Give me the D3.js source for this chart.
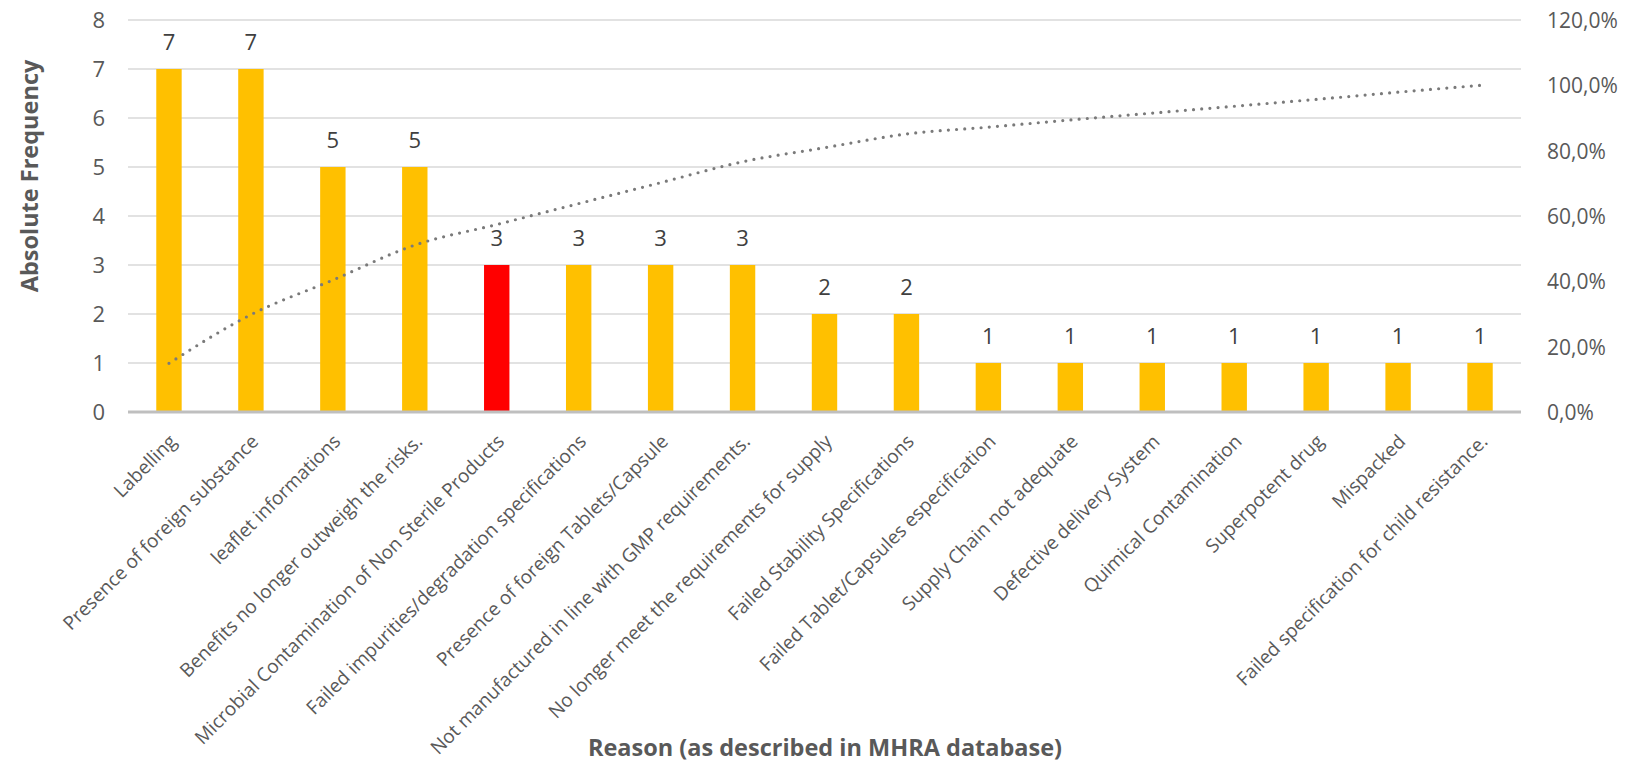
<!DOCTYPE html>
<html>
<head>
<meta charset="utf-8">
<script src="https://cdn.jsdelivr.net/npm/d3@7"></script>
<style>
  html, body { margin: 0; padding: 0; background: #ffffff; }
  svg { display: block; font-family: "Open Sans", "DejaVu Sans", sans-serif; }
  svg text { font-family: "Open Sans", "DejaVu Sans", sans-serif; }
</style>
</head>
<body>
<svg id="chart" width="1643" height="764"></svg>
<script>
// Recall reasons, ordered by frequency (Pareto)
const categories = [
  "Labelling",
  "Presence of foreign substance",
  "leaflet informations",
  "Benefits no longer outweigh the risks.",
  "Microbial Contamination of Non Sterile Products",
  "Failed impurities/degradation specifications",
  "Presence of foreign Tablets/Capsule",
  "Not manufactured in line with GMP requirements.",
  "No longer meet the requirements for supply",
  "Failed Stability Specifications",
  "Failed Tablet/Capsules especification",
  "Supply Chain not adequate",
  "Defective delivery System",
  "Quimical Contamination",
  "Superpotent drug",
  "Mispacked",
  "Failed specification for child resistance."
];

// Absolute frequency of each reason
const frequencies = [7, 7, 5, 5, 3, 3, 3, 3, 2, 2, 1, 1, 1, 1, 1, 1, 1];

// Cumulative percentage (right axis)
const cumulativePercent = [14.9, 29.8, 40.4, 51.1, 57.4, 63.8, 70.2, 76.6, 80.9, 85.1,
                           87.2, 89.4, 91.5, 93.6, 95.7, 97.9, 100.0];

const leftTicks = [0, 1, 2, 3, 4, 5, 6, 7, 8];
const rightTicks = [0, 20, 40, 60, 80, 100, 120];

const highlighted = "Microbial Contamination of Non Sterile Products";

const svg = d3.select("#chart");
const plot = { left: 128, right: 1521, top: 20, bottom: 412 };
const fontStack = "'Open Sans', 'DejaVu Sans', sans-serif";

const x = d3.scaleBand()
  .domain(categories)
  .range([plot.left, plot.right])
  .paddingInner(0.69)
  .paddingOuter(0.345);

const y = d3.scaleLinear().domain([0, 8]).range([plot.bottom, plot.top]);
const yPct = d3.scaleLinear().domain([0, 120]).range([plot.bottom, plot.top]);

const textGrey = "#595959";

// Horizontal gridlines
svg.append("g")
  .selectAll("line")
  .data(leftTicks.filter(d => d > 0))
  .join("line")
  .attr("x1", plot.left)
  .attr("x2", plot.right)
  .attr("y1", d => y(d))
  .attr("y2", d => y(d))
  .attr("stroke", "#d9d9d9")
  .attr("stroke-width", 1.5);

// Left axis (absolute frequency)
const leftAxis = svg.append("g")
  .attr("transform", `translate(${plot.left},0)`)
  .call(d3.axisLeft(y).tickValues(leftTicks).tickSize(0).tickPadding(23).tickFormat(d3.format("d")))
  .attr("font-family", fontStack);
leftAxis.select(".domain").remove();
leftAxis.selectAll("text")
  .attr("fill", textGrey)
  .style("font-size", "22px")
  .attr("dy", "0.35em");

// Right axis (cumulative percentage)
const rightAxis = svg.append("g")
  .attr("transform", `translate(${plot.right},0)`)
  .call(d3.axisRight(yPct).tickValues(rightTicks).tickSize(0).tickPadding(26)
    .tickFormat(d => d3.format(".1f")(d).replace(".", ",") + "%"))
  .attr("font-family", fontStack);
rightAxis.select(".domain").remove();
rightAxis.selectAll("text")
  .attr("fill", textGrey)
  .style("font-size", "21px")
  .attr("dy", "0.35em");

// Bars
svg.append("g")
  .selectAll("rect")
  .data(categories)
  .join("rect")
  .attr("x", d => x(d))
  .attr("width", x.bandwidth())
  .attr("y", (d, i) => y(frequencies[i]))
  .attr("height", (d, i) => y(0) - y(frequencies[i]))
  .attr("fill", d => d === highlighted ? "#ff0000" : "#ffc000");

// Value labels above the bars
svg.append("g")
  .selectAll("text")
  .data(categories)
  .join("text")
  .attr("x", d => x(d) + x.bandwidth() / 2)
  .attr("y", (d, i) => y(frequencies[i]) - 19)
  .attr("text-anchor", "middle")
  .attr("fill", "#404040")
  .style("font-size", "22px")
  .text((d, i) => frequencies[i]);

// Category axis baseline
svg.append("line")
  .attr("x1", plot.left)
  .attr("x2", plot.right)
  .attr("y1", y(0))
  .attr("y2", y(0))
  .attr("stroke", "#bfbfbf")
  .attr("stroke-width", 3);

// Rotated category labels
const xAxis = svg.append("g")
  .attr("transform", `translate(0,${plot.bottom})`)
  .call(d3.axisBottom(x).tickSize(0).tickPadding(0))
  .attr("font-family", fontStack);
xAxis.select(".domain").remove();
xAxis.selectAll(".tick text")
  .attr("text-anchor", "end")
  .attr("fill", textGrey)
  .style("font-size", "19px")
  .attr("transform", "translate(4,26) rotate(-45)")
  .attr("dy", "0.35em")
  .attr("y", 0);

// Cumulative percentage line (dotted)
const line = d3.line()
  .x((d, i) => x(categories[i]) + x.bandwidth() / 2)
  .y(d => yPct(d))
  .curve(d3.curveMonotoneX);

svg.append("path")
  .datum(cumulativePercent)
  .attr("d", line)
  .attr("fill", "none")
  .attr("stroke", "#7a7a7a")
  .attr("stroke-width", 3.2)
  .attr("stroke-linecap", "round")
  .attr("stroke-dasharray", "0,8.2");

// Axis titles
svg.append("text")
  .attr("transform", `translate(38,${(plot.top + plot.bottom) / 2 - 40}) rotate(-90)`)
  .attr("text-anchor", "middle")
  .attr("fill", textGrey)
  .style("font-size", "23.5px")
  .style("font-weight", "bold")
  .text("Absolute Frequency");

svg.append("text")
  .attr("x", 825)
  .attr("y", 756)
  .attr("text-anchor", "middle")
  .attr("fill", textGrey)
  .style("font-size", "23.5px")
  .style("font-weight", "bold")
  .text("Reason (as described in MHRA database)");
</script>
</body>
</html>
